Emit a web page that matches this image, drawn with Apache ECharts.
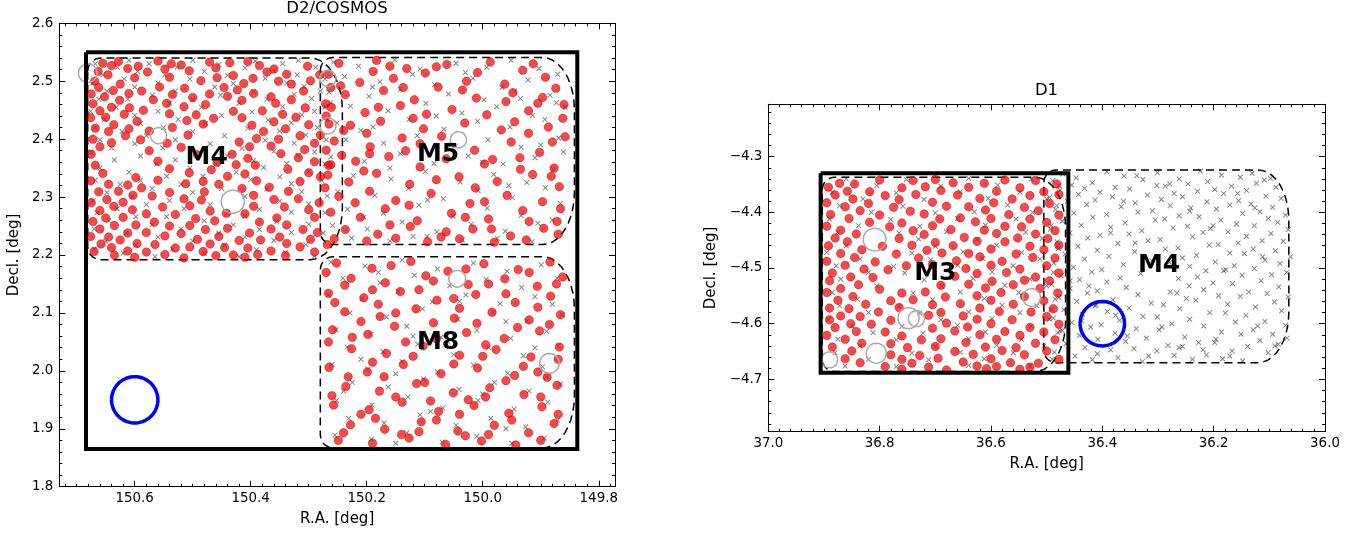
<!DOCTYPE html>
<html><head><meta charset="utf-8">
<script src="https://cdn.jsdelivr.net/npm/echarts@6/dist/echarts.min.js"></script>
<style>html,body{margin:0;padding:0;background:#fff}#c{width:1372px;height:536px}</style>
</head><body><div id="c"></div><script>
// ---------------- DATA ----------------
// D2/COSMOS panel
const d2XTicks = [150.6, 150.4, 150.2, 150.0, 149.8];
const d2YTicks = [1.8, 1.9, 2.0, 2.1, 2.2, 2.3, 2.4, 2.5, 2.6];
const d2Range = {ra: [149.772, 150.730], dec: [1.8, 2.6]};
// footprints: [RA east edge, RA west edge, Dec north, Dec south]
const d2Tiles = [[150.681, 150.242, 2.540, 2.192], [150.280, 149.842, 2.541, 2.218], [150.280, 149.842, 2.197, 1.867]];
const d2Box = [150.684, 149.837, 2.550, 1.865];
const d2Labels = ['M4', 'M5', 'M8'];
const d2LabelRA = [150.476, 150.077, 150.077];
const d2LabelDec = [2.368, 2.373, 2.049];
// grey masks [ra, dec, radius]
const d2Masks = [[150.681,2.514,0.016],[150.559,2.406,0.014],[150.431,2.292,0.020],[150.267,2.505,0.014],[150.267,2.423,0.014],[150.042,2.399,0.014],[150.044,2.159,0.0145],[149.885,2.013,0.017]];
const d2Blue = [150.6, 1.95, 0.04];

const d2Red = [
// M4
150.628,2.534,150.560,2.535,150.471,2.533,150.405,2.534,150.655,2.531,150.537,2.530,150.436,2.532,
150.640,2.527,150.594,2.526,150.520,2.528,150.385,2.527,150.302,2.526,150.612,2.522,150.548,2.521,150.460,2.523,150.360,2.521,
150.663,2.517,150.578,2.516,150.506,2.518,150.372,2.516,150.646,2.511,150.430,2.510,150.338,2.512,150.281,2.511,
150.600,2.506,150.540,2.507,150.458,2.506,150.396,2.505,150.669,2.500,150.486,2.501,150.352,2.500,150.297,2.501,
150.625,2.495,150.412,2.496,150.330,2.495,150.662,2.489,150.557,2.490,150.514,2.488,150.446,2.489,150.262,2.489,
150.637,2.484,150.588,2.483,150.423,2.485,150.309,2.483,150.675,2.478,150.610,2.479,150.535,2.477,150.471,2.478,150.395,2.479,
150.652,2.473,150.500,2.472,150.440,2.474,150.365,2.473,150.626,2.467,150.568,2.468,150.415,2.467,150.330,2.468,
150.672,2.461,150.545,2.462,150.478,2.460,150.357,2.462,150.271,2.461,150.640,2.455,150.609,2.454,150.515,2.456,150.306,2.454,
150.660,2.449,150.585,2.450,150.430,2.448,150.380,2.449,150.618,2.443,150.540,2.444,150.494,2.442,150.345,2.443,
150.676,2.437,150.650,2.438,150.464,2.436,150.415,2.437,150.322,2.438,150.596,2.431,150.510,2.432,150.360,2.430,
150.636,2.425,150.482,2.426,150.398,2.424,150.300,2.425,150.265,2.426,150.668,2.419,150.610,2.418,150.535,2.420,150.340,2.418,
150.645,2.413,150.575,2.414,150.378,2.413,150.616,2.406,150.508,2.407,150.315,2.406,150.280,2.407,
150.672,2.400,150.590,2.399,150.390,2.401,150.352,2.400,150.640,2.394,150.544,2.393,150.420,2.395,150.290,2.393,
150.660,2.387,150.520,2.386,150.402,2.387,150.365,2.388,150.575,2.380,150.307,2.382,150.270,2.381,
150.675,2.374,150.492,2.373,150.432,2.374,150.348,2.375,150.405,2.367,150.318,2.368,
150.560,2.362,150.458,2.360,150.290,2.361,150.668,2.355,150.425,2.356,150.392,2.355,150.262,2.356,
150.540,2.349,150.468,2.347,150.336,2.348,150.655,2.341,150.506,2.342,150.410,2.340,150.300,2.342,
150.598,2.334,150.440,2.336,150.280,2.335,150.676,2.328,150.560,2.329,150.482,2.327,150.390,2.328,150.315,2.327,
150.645,2.322,150.612,2.321,150.512,2.323,150.455,2.322,150.588,2.316,150.415,2.315,150.368,2.317,150.272,2.316,
150.662,2.309,150.628,2.310,150.540,2.308,150.480,2.309,150.335,2.310,150.603,2.303,150.570,2.302,150.395,2.303,
150.648,2.296,150.515,2.297,150.485,2.295,150.360,2.296,150.318,2.297,150.675,2.290,150.620,2.291,150.282,2.290,
150.636,2.284,150.552,2.283,150.505,2.285,150.395,2.284,150.342,2.283,150.660,2.277,150.604,2.278,150.470,2.276,150.300,2.278,
150.580,2.271,150.530,2.270,150.442,2.272,150.410,2.271,150.650,2.264,150.620,2.265,150.495,2.263,150.355,2.264,150.290,2.265,
150.672,2.258,150.566,2.257,150.462,2.259,150.385,2.257,150.635,2.251,150.598,2.252,150.540,2.250,150.505,2.251,150.338,2.252,
150.660,2.245,150.478,2.244,150.440,2.246,150.365,2.245,150.310,2.244,150.612,2.238,150.580,2.239,150.520,2.237,150.402,2.238,150.285,2.239,
150.676,2.232,150.645,2.231,150.548,2.233,150.455,2.232,150.350,2.231,150.625,2.226,150.492,2.227,150.420,2.225,150.383,2.226,150.297,2.227,
150.658,2.219,150.596,2.220,150.565,2.218,150.470,2.219,150.338,2.220,150.268,2.218,150.640,2.213,150.530,2.212,150.505,2.214,150.445,2.213,150.405,2.212,150.315,2.214,
150.670,2.206,150.612,2.207,150.580,2.205,150.482,2.206,150.365,2.207,150.290,2.205,150.635,2.200,150.548,2.201,150.460,2.199,150.430,2.200,150.388,2.201,150.340,2.199,
150.600,2.196,150.515,2.195,150.410,2.196,
// M5
150.248,2.531,150.183,2.536,150.131,2.522,150.062,2.529,149.987,2.533,149.931,2.519,149.892,2.507,
150.266,2.512,150.212,2.498,150.154,2.505,150.099,2.514,150.028,2.500,149.962,2.495,149.874,2.488,
150.237,2.477,150.171,2.484,150.118,2.468,150.077,2.490,150.011,2.471,149.948,2.480,149.905,2.462,
150.261,2.455,150.203,2.446,150.142,2.458,150.053,2.451,149.993,2.442,149.921,2.449,149.862,2.436,
150.228,2.424,150.176,2.431,150.102,2.418,150.031,2.428,149.968,2.416,149.887,2.421,
150.256,2.397,150.194,2.387,150.139,2.402,150.014,2.381,149.951,2.395,149.902,2.377,149.858,2.404,
150.219,2.362,150.162,2.370,150.108,2.352,150.063,2.366,149.997,2.357,149.936,2.368,149.877,2.350,
150.267,2.338,150.231,2.326,150.183,2.341,150.126,2.322,150.041,2.335,149.975,2.327,149.914,2.339,149.868,2.318,
150.248,2.301,150.195,2.310,150.150,2.294,150.089,2.306,150.022,2.289,149.958,2.303,149.897,2.292,
150.262,2.274,150.211,2.265,150.168,2.280,150.113,2.259,150.054,2.272,149.990,2.262,149.931,2.277,149.872,2.258,
150.237,2.244,150.181,2.236,150.125,2.249,150.072,2.231,150.017,2.245,149.952,2.233,149.895,2.246,
150.256,2.228,150.200,2.224,150.150,2.229,150.095,2.223,150.040,2.228,149.980,2.222,149.925,2.226,
150.080,2.525,150.009,2.515,149.913,2.530,150.189,2.517,150.137,2.489,149.897,2.472,150.245,2.492,150.097,2.443,149.945,2.430,150.200,2.410,
150.071,2.405,149.921,2.410,150.243,2.372,149.983,2.365,150.133,2.380,150.205,2.345,150.013,2.316,149.882,2.336,150.127,2.286,150.063,2.240,
149.997,2.292,149.866,2.280,150.160,2.526,150.035,2.485,149.960,2.465,150.270,2.440,150.180,2.455,150.120,2.436,150.240,2.415,149.860,2.460,
150.108,2.392,149.935,2.348,150.266,2.355,150.080,2.330,150.220,2.290,149.985,2.245,150.160,2.252,149.870,2.236,150.030,2.265,149.920,2.258,
150.195,2.375,149.880,2.395,
// M8
150.252,2.186,150.191,2.177,150.124,2.189,150.060,2.172,149.998,2.185,149.939,2.175,149.884,2.188,
150.227,2.160,150.168,2.152,150.098,2.164,150.025,2.149,149.962,2.159,149.906,2.146,149.862,2.162,
150.266,2.134,150.205,2.126,150.142,2.137,150.079,2.122,150.012,2.132,149.944,2.118,149.883,2.129,
150.238,2.102,150.177,2.094,150.115,2.107,150.049,2.091,149.984,2.101,149.920,2.088,149.866,2.097,
150.259,2.071,150.198,2.063,150.152,2.077,150.028,2.066,149.963,2.056,149.902,2.069,
150.226,2.038,150.166,2.030,150.103,2.043,150.040,2.027,149.977,2.037,149.917,2.024,149.868,2.041,
150.265,2.006,150.199,1.998,150.137,2.011,150.072,1.995,150.009,2.005,149.945,1.992,149.889,1.989,
150.236,1.973,150.178,1.965,150.114,1.978,150.051,1.962,149.988,1.971,149.929,1.959,149.872,1.975,
150.257,1.941,150.196,1.933,150.139,1.946,150.076,1.930,150.015,1.940,149.955,1.927,149.898,1.938,
150.228,1.907,150.169,1.899,150.106,1.912,150.043,1.896,149.980,1.906,149.921,1.893,149.877,1.909,
150.249,1.880,150.190,1.875,150.127,1.884,150.064,1.873,150.002,1.879,149.943,1.872,
150.158,2.182,150.029,2.176,149.873,2.150,150.238,2.148,150.110,2.140,149.960,2.133,150.180,2.115,150.040,2.108,149.905,2.110,150.255,2.118,
150.085,2.083,149.940,2.075,150.210,2.085,150.133,2.050,149.995,2.045,150.266,2.050,150.190,2.015,150.050,2.012,149.930,2.008,150.232,1.990,
150.100,1.980,149.960,1.983,150.150,1.955,150.025,1.950,149.900,1.955,150.210,1.925,150.080,1.915,149.950,1.915,150.140,1.890,150.030,1.888,
149.900,1.880,150.270,2.170,149.920,2.170,150.085,2.155,150.190,2.140,149.990,2.150,150.050,2.125,150.150,2.100,149.885,2.080,150.010,2.082,
150.225,2.058,150.080,2.055,149.870,2.020,150.120,2.025,150.000,2.025,149.905,1.998,150.170,1.990,149.995,1.955,150.260,1.957,150.090,1.948,
149.870,1.925,150.185,1.918,150.040,1.925,149.990,1.890,150.110,1.895,150.240,1.893
];

const d2Cross = [
// M4
150.610,2.536,150.500,2.536,150.392,2.535,150.318,2.536,150.668,2.530,150.575,2.530,150.455,2.529,150.345,2.530,150.630,2.524,150.527,2.524,150.410,2.523,150.288,2.524,
150.595,2.517,150.480,2.517,150.360,2.518,150.655,2.511,150.548,2.511,150.440,2.510,150.320,2.511,150.618,2.504,150.505,2.504,150.375,2.505,150.272,2.504,
150.672,2.497,150.560,2.497,150.430,2.496,150.338,2.497,150.600,2.490,150.462,2.490,150.308,2.491,150.648,2.483,150.530,2.483,150.395,2.482,150.280,2.483,
150.570,2.476,150.452,2.476,150.325,2.477,150.662,2.469,150.612,2.469,150.500,2.468,150.372,2.469,150.295,2.470,150.540,2.462,150.420,2.462,150.262,2.463,
150.632,2.455,150.485,2.455,150.345,2.456,150.676,2.448,150.560,2.448,150.398,2.447,150.290,2.448,150.600,2.441,150.450,2.441,150.312,2.442,
150.652,2.434,150.525,2.434,150.370,2.433,150.268,2.434,150.590,2.427,150.478,2.427,150.330,2.428,150.668,2.420,150.550,2.420,150.405,2.419,150.285,2.420,
150.622,2.413,150.500,2.413,150.350,2.414,150.580,2.406,150.445,2.406,150.305,2.407,150.660,2.399,150.530,2.399,150.375,2.398,150.270,2.399,
150.600,2.392,150.470,2.392,150.325,2.393,150.640,2.385,150.552,2.385,150.415,2.384,150.675,2.378,150.500,2.378,150.360,2.379,150.290,2.378,
150.590,2.371,150.440,2.371,150.318,2.372,150.635,2.364,150.530,2.364,150.395,2.363,150.562,2.357,150.460,2.357,150.338,2.358,150.272,2.357,
150.660,2.350,150.505,2.350,150.378,2.351,150.610,2.343,150.425,2.343,150.300,2.344,150.545,2.336,150.482,2.336,150.350,2.335,
150.668,2.329,150.590,2.329,150.400,2.330,150.278,2.329,150.625,2.322,150.520,2.322,150.330,2.323,150.570,2.315,150.450,2.315,150.372,2.314,
150.648,2.308,150.500,2.308,150.312,2.309,150.605,2.301,150.410,2.301,150.268,2.302,150.672,2.294,150.540,2.294,150.350,2.293,
150.580,2.287,150.470,2.287,150.300,2.288,150.630,2.280,150.515,2.280,150.385,2.279,150.665,2.273,150.440,2.273,150.330,2.274,150.272,2.273,
150.598,2.266,150.545,2.266,150.410,2.267,150.645,2.259,150.480,2.259,150.355,2.258,150.570,2.252,150.430,2.252,150.300,2.253,
150.670,2.245,150.520,2.245,150.385,2.244,150.615,2.238,150.455,2.238,150.330,2.239,150.275,2.238,150.560,2.231,150.410,2.231,
150.650,2.224,150.500,2.224,150.360,2.225,150.598,2.217,150.445,2.217,150.305,2.218,150.670,2.210,150.535,2.210,150.390,2.209,
150.620,2.203,150.480,2.203,150.340,2.204,150.565,2.197,150.420,2.197,150.290,2.198,
// M5
150.257,2.533,150.214,2.526,150.152,2.537,150.108,2.521,150.046,2.531,149.993,2.524,149.951,2.536,149.903,2.522,149.871,2.512,
150.238,2.508,150.177,2.499,150.121,2.512,150.083,2.494,150.017,2.505,149.967,2.489,149.922,2.502,
150.265,2.481,150.196,2.474,150.142,2.486,150.059,2.478,149.998,2.468,149.945,2.483,149.884,2.476,149.858,2.455,
150.228,2.457,150.163,2.449,150.098,2.462,150.036,2.445,149.976,2.456,149.914,2.441,149.873,2.463,
150.251,2.428,150.189,2.421,150.127,2.434,150.067,2.417,150.009,2.431,149.953,2.421,149.893,2.434,
150.236,2.399,150.171,2.393,150.113,2.406,150.047,2.388,149.991,2.399,149.934,2.386,149.869,2.402,
150.262,2.369,150.204,2.362,150.142,2.375,150.084,2.358,150.025,2.371,149.965,2.357,149.910,2.368,149.861,2.378,
150.223,2.337,150.158,2.331,150.099,2.344,150.039,2.326,149.981,2.339,149.924,2.325,149.878,2.347,
150.250,2.309,150.186,2.303,150.128,2.315,150.068,2.297,150.008,2.311,149.949,2.299,149.892,2.316,
150.233,2.279,150.171,2.272,150.110,2.286,150.051,2.267,149.992,2.281,149.934,2.268,149.866,2.289,
150.259,2.251,150.199,2.245,150.139,2.257,150.079,2.240,150.020,2.253,149.961,2.241,149.905,2.255,
150.226,2.229,150.160,2.224,150.096,2.232,150.035,2.226,149.975,2.229,149.915,2.223,
150.272,2.455,150.190,2.490,150.030,2.515,149.935,2.470,150.080,2.440,150.210,2.415,149.900,2.390,150.160,2.350,150.055,2.390,149.955,2.320,
150.095,2.295,150.205,2.265,149.880,2.260,150.000,2.360,150.120,2.232,
// M8
150.262,2.188,150.203,2.181,150.139,2.191,150.078,2.176,150.016,2.186,149.958,2.172,149.899,2.183,
150.241,2.160,150.177,2.152,150.118,2.165,150.057,2.147,149.994,2.158,149.933,2.144,149.872,2.160,
150.266,2.131,150.208,2.124,150.146,2.137,150.087,2.119,150.029,2.131,149.970,2.116,149.910,2.128,
150.229,2.100,150.166,2.093,150.104,2.107,150.043,2.089,149.982,2.101,149.924,2.086,149.863,2.097,
150.253,2.071,150.193,2.063,150.131,2.077,150.072,2.058,150.010,2.070,149.952,2.056,149.890,2.068,
150.234,2.041,150.172,2.033,150.112,2.046,150.050,2.028,149.990,2.040,149.930,2.026,149.870,2.043,
150.260,2.011,150.198,2.003,150.139,2.016,150.078,1.998,150.016,2.010,149.957,1.996,149.897,2.007,
150.225,1.980,150.163,1.972,150.102,1.986,150.041,1.968,149.980,1.980,149.920,1.965,149.866,1.977,
150.252,1.949,150.191,1.941,150.129,1.955,150.069,1.936,150.008,1.949,149.946,1.934,149.888,1.946,
150.231,1.918,150.170,1.910,150.108,1.924,150.046,1.906,149.986,1.918,149.926,1.903,149.871,1.915,
150.255,1.889,150.192,1.882,150.131,1.893,150.070,1.877,150.010,1.887,149.950,1.875,149.894,1.884,
150.180,2.170,150.040,2.120,149.880,2.115,150.120,2.060,149.960,2.085,150.210,2.020,150.060,2.050,149.910,2.040,150.150,1.995,150.000,1.960,
149.890,1.990,150.240,1.965,150.090,1.930,149.960,1.900,150.150,1.875
];

// D1 panel
const d1XTicks = [37.0, 36.8, 36.6, 36.4, 36.2, 36.0];
const d1YTicks = [-4.7, -4.6, -4.5, -4.4, -4.3];
const d1Range = {ra: [36.0, 37.0], dec: [-4.794, -4.206]};
const d1Tiles = [[36.903, 36.466, -4.337, -4.686], [36.505, 36.065, -4.324, -4.670]];
const d1Box = [36.906, 36.461, -4.330, -4.688];
const d1Labels = ['M3', 'M4'];
const d1LabelRA = [36.700, 36.298];
const d1LabelDec = [-4.509, -4.496];
const d1Masks = [[36.809,-4.449,0.0205],[36.527,-4.553,0.016],[36.748,-4.590,0.019],[36.734,-4.591,0.0145],[36.806,-4.653,0.018],[36.890,-4.665,0.0145]];
const d1Blue = [36.4, -4.6, 0.04];

const d1Red = [
36.800,-4.342,36.740,-4.343,36.700,-4.341,36.575,-4.342,36.520,-4.343,36.872,-4.348,36.845,-4.349,36.668,-4.347,36.612,-4.348,36.482,-4.349,
36.892,-4.355,36.760,-4.356,36.718,-4.354,36.640,-4.355,36.548,-4.356,36.858,-4.362,36.818,-4.363,36.690,-4.361,36.590,-4.362,36.505,-4.363,
36.880,-4.369,36.790,-4.370,36.735,-4.368,36.660,-4.369,36.530,-4.370,36.478,-4.368,36.848,-4.376,36.765,-4.377,36.620,-4.375,36.562,-4.376,
36.895,-4.383,36.820,-4.384,36.705,-4.382,36.595,-4.383,36.495,-4.384,36.862,-4.390,36.775,-4.391,36.680,-4.389,36.640,-4.390,36.540,-4.391,
36.835,-4.397,36.745,-4.398,36.610,-4.396,36.515,-4.397,36.888,-4.404,36.800,-4.405,36.720,-4.403,36.568,-4.404,36.478,-4.405,
36.855,-4.411,36.692,-4.412,36.655,-4.410,36.600,-4.411,36.530,-4.412,36.818,-4.418,36.760,-4.419,36.628,-4.417,36.500,-4.418,
36.895,-4.425,36.782,-4.426,36.705,-4.424,36.575,-4.425,36.545,-4.426,36.870,-4.432,36.740,-4.433,36.672,-4.431,36.612,-4.432,36.485,-4.433,
36.842,-4.439,36.720,-4.440,36.590,-4.438,36.520,-4.439,36.880,-4.446,36.765,-4.447,36.648,-4.445,36.552,-4.446,36.498,-4.447,
36.858,-4.453,36.700,-4.454,36.625,-4.452,36.575,-4.453,36.892,-4.460,36.795,-4.461,36.742,-4.459,36.668,-4.460,36.530,-4.461,36.478,-4.459,
36.832,-4.467,36.715,-4.468,36.600,-4.466,36.505,-4.467,36.870,-4.474,36.770,-4.475,36.688,-4.473,36.640,-4.474,36.555,-4.475,
36.845,-4.481,36.730,-4.482,36.620,-4.480,36.525,-4.481,36.485,-4.482,36.895,-4.488,36.808,-4.489,36.662,-4.487,36.580,-4.488,
36.862,-4.495,36.752,-4.496,36.705,-4.494,36.600,-4.495,36.500,-4.496,36.828,-4.502,36.785,-4.503,36.645,-4.501,36.548,-4.502,
36.885,-4.509,36.625,-4.510,36.572,-4.508,36.478,-4.509,36.852,-4.516,36.812,-4.517,36.665,-4.515,36.520,-4.516,
36.890,-4.523,36.598,-4.524,36.540,-4.522,36.495,-4.523,36.838,-4.530,36.690,-4.531,36.640,-4.529,36.560,-4.530,
36.870,-4.537,36.800,-4.538,36.610,-4.536,36.512,-4.537,36.895,-4.544,36.760,-4.545,36.718,-4.543,36.582,-4.544,36.480,-4.545,
36.848,-4.551,36.682,-4.552,36.625,-4.550,36.540,-4.551,36.875,-4.558,36.780,-4.559,36.740,-4.557,36.600,-4.558,36.505,-4.559,
36.825,-4.565,36.705,-4.566,36.655,-4.564,36.560,-4.565,36.890,-4.572,36.855,-4.573,36.765,-4.571,36.620,-4.572,36.488,-4.573,
36.802,-4.579,36.690,-4.580,36.585,-4.578,36.528,-4.579,36.870,-4.586,36.835,-4.587,36.712,-4.585,36.650,-4.586,36.500,-4.587,
36.890,-4.593,36.780,-4.594,36.625,-4.592,36.562,-4.593,36.852,-4.600,36.815,-4.601,36.680,-4.599,36.600,-4.600,36.478,-4.601,
36.880,-4.607,36.705,-4.608,36.642,-4.606,36.530,-4.607,36.842,-4.614,36.790,-4.615,36.665,-4.613,36.575,-4.614,36.505,-4.615,
36.895,-4.621,36.760,-4.622,36.620,-4.620,36.548,-4.621,36.862,-4.628,36.725,-4.629,36.690,-4.627,36.590,-4.628,36.485,-4.629,
36.832,-4.635,36.780,-4.636,36.645,-4.634,36.520,-4.635,36.885,-4.642,36.750,-4.643,36.700,-4.641,36.610,-4.642,36.555,-4.643,
36.850,-4.649,36.665,-4.650,36.580,-4.648,36.500,-4.649,36.780,-4.656,36.728,-4.657,36.632,-4.655,36.540,-4.656,
36.862,-4.663,36.760,-4.664,36.695,-4.662,36.600,-4.663,36.478,-4.664,36.835,-4.670,36.742,-4.671,36.650,-4.669,36.565,-4.670,36.515,-4.671,
36.790,-4.677,36.712,-4.678,36.625,-4.676,36.590,-4.677,36.530,-4.678,36.760,-4.682,36.680,-4.683,36.608,-4.681,36.548,-4.682
];

const d1Cross = [
// M3 area
36.860,-4.340,36.752,-4.341,36.640,-4.339,36.528,-4.340,36.805,-4.352,36.690,-4.353,36.588,-4.351,36.478,-4.352,
36.885,-4.364,36.770,-4.365,36.655,-4.363,36.548,-4.364,36.830,-4.376,36.720,-4.377,36.605,-4.375,36.500,-4.376,
36.872,-4.388,36.758,-4.389,36.570,-4.387,36.482,-4.388,36.815,-4.400,36.700,-4.401,36.630,-4.399,36.525,-4.400,
36.890,-4.412,36.780,-4.413,36.660,-4.411,36.555,-4.412,36.838,-4.424,36.728,-4.425,36.610,-4.423,36.492,-4.424,
36.875,-4.436,36.765,-4.437,36.680,-4.435,36.538,-4.436,36.730,-4.448,36.625,-4.449,36.508,-4.447,
36.860,-4.460,36.700,-4.461,36.590,-4.459,36.480,-4.460,36.895,-4.472,36.742,-4.473,36.650,-4.471,36.545,-4.472,
36.835,-4.484,36.708,-4.485,36.615,-4.483,36.512,-4.484,36.878,-4.496,36.775,-4.497,36.660,-4.495,36.560,-4.496,
36.820,-4.508,36.755,-4.509,36.598,-4.507,36.488,-4.508,36.870,-4.520,36.720,-4.521,36.632,-4.519,36.530,-4.520,
36.805,-4.532,36.688,-4.533,36.575,-4.531,36.500,-4.532,36.885,-4.544,36.740,-4.545,36.655,-4.543,36.550,-4.544,
36.840,-4.556,36.705,-4.557,36.612,-4.555,36.485,-4.556,36.872,-4.568,36.765,-4.569,36.580,-4.567,36.518,-4.568,
36.820,-4.580,36.728,-4.581,36.640,-4.579,36.548,-4.580,36.892,-4.592,36.690,-4.593,36.598,-4.591,36.495,-4.592,
36.850,-4.604,36.760,-4.605,36.660,-4.603,36.528,-4.604,36.812,-4.616,36.722,-4.617,36.610,-4.615,36.480,-4.616,
36.875,-4.628,36.770,-4.629,36.640,-4.627,36.545,-4.628,36.835,-4.640,36.700,-4.641,36.590,-4.639,36.505,-4.640,
36.880,-4.652,36.742,-4.653,36.655,-4.651,36.560,-4.652,36.820,-4.664,36.712,-4.665,36.612,-4.663,36.490,-4.664,
36.862,-4.676,36.770,-4.677,36.640,-4.675,36.530,-4.676,
// M4 area
36.471,-4.331,36.392,-4.327,36.338,-4.334,36.301,-4.329,36.224,-4.326,36.186,-4.333,36.131,-4.330,
36.447,-4.338,36.361,-4.335,36.262,-4.340,36.152,-4.337,36.109,-4.342,
36.489,-4.343,36.418,-4.347,36.327,-4.341,36.279,-4.349,36.211,-4.345,36.098,-4.339,
36.455,-4.351,36.377,-4.355,36.246,-4.349,36.168,-4.353,36.123,-4.348,
36.432,-4.357,36.302,-4.352,36.198,-4.359,36.141,-4.361,36.088,-4.355,
36.476,-4.360,36.404,-4.364,36.351,-4.358,36.271,-4.366,36.229,-4.362,
36.443,-4.368,36.382,-4.372,36.319,-4.369,36.182,-4.366,36.106,-4.371,
36.495,-4.373,36.294,-4.377,36.256,-4.372,36.155,-4.379,36.079,-4.375,
36.463,-4.380,36.413,-4.378,36.341,-4.383,36.212,-4.381,36.133,-4.385,
36.428,-4.386,36.366,-4.390,36.278,-4.388,36.241,-4.392,36.171,-4.387,36.094,-4.391,
36.484,-4.395,36.310,-4.397,36.195,-4.394,36.117,-4.399,
36.451,-4.401,36.392,-4.404,36.336,-4.400,36.262,-4.406,36.148,-4.402,36.071,-4.405,
36.417,-4.409,36.288,-4.412,36.226,-4.408,36.187,-4.414,36.102,-4.411,
36.472,-4.416,36.359,-4.419,36.305,-4.414,36.159,-4.421,36.085,-4.418,
36.438,-4.423,36.385,-4.427,36.247,-4.425,36.206,-4.429,36.127,-4.424,
36.493,-4.430,36.329,-4.433,36.273,-4.428,36.174,-4.435,36.066,-4.431,
36.458,-4.437,36.404,-4.441,36.352,-4.439,36.219,-4.436,36.141,-4.443,36.097,-4.438,
36.426,-4.446,36.296,-4.449,36.238,-4.444,36.113,-4.451,
36.481,-4.453,36.372,-4.456,36.318,-4.451,36.192,-4.458,36.156,-4.455,36.075,-4.452,
36.444,-4.461,36.264,-4.464,36.208,-4.459,36.129,-4.466,
36.409,-4.468,36.342,-4.471,36.287,-4.466,36.171,-4.473,36.089,-4.469,
36.467,-4.475,36.388,-4.479,36.231,-4.477,36.145,-4.474,36.062,-4.480,
36.432,-4.484,36.311,-4.487,36.256,-4.482,36.197,-4.489,36.108,-4.486,
36.487,-4.491,36.362,-4.494,36.279,-4.490,36.163,-4.496,36.081,-4.492,
36.452,-4.499,36.401,-4.503,36.243,-4.497,36.214,-4.505,36.127,-4.501,
36.419,-4.507,36.331,-4.510,36.182,-4.505,36.096,-4.512,36.069,-4.508,
36.474,-4.514,36.368,-4.518,36.229,-4.516,36.149,-4.513,
36.441,-4.521,36.392,-4.525,36.263,-4.519,36.201,-4.527,36.115,-4.523,
36.491,-4.529,36.244,-4.532,36.166,-4.528,36.083,-4.534,
36.458,-4.537,36.409,-4.541,36.357,-4.535,36.218,-4.539,36.137,-4.543,
36.427,-4.545,36.336,-4.548,36.278,-4.543,36.191,-4.550,36.104,-4.546,36.066,-4.552,
36.478,-4.553,36.381,-4.557,36.249,-4.555,36.152,-4.551,
36.446,-4.560,36.312,-4.563,36.232,-4.558,36.175,-4.565,36.091,-4.561,
36.413,-4.568,36.352,-4.572,36.290,-4.566,36.125,-4.570,
36.469,-4.575,36.391,-4.578,36.261,-4.573,36.207,-4.580,36.078,-4.577,
36.436,-4.583,36.327,-4.587,36.179,-4.581,36.142,-4.585,
36.488,-4.590,36.369,-4.594,36.301,-4.588,36.243,-4.592,36.108,-4.596,
36.455,-4.598,36.402,-4.602,36.275,-4.600,36.161,-4.597,36.071,-4.603,
36.421,-4.606,36.339,-4.609,36.218,-4.604,36.129,-4.611,
36.476,-4.613,36.377,-4.617,36.298,-4.611,36.186,-4.615,36.094,-4.619,
36.441,-4.621,36.252,-4.624,36.151,-4.619,36.068,-4.626,
36.408,-4.628,36.358,-4.632,36.321,-4.626,36.227,-4.634,36.117,-4.630,
36.465,-4.636,36.282,-4.639,36.198,-4.634,36.139,-4.641,36.084,-4.637,
36.431,-4.643,36.385,-4.647,36.343,-4.645,36.256,-4.641,36.167,-4.649,
36.486,-4.651,36.409,-4.654,36.302,-4.649,36.213,-4.656,36.102,-4.652,
36.449,-4.658,36.372,-4.661,36.271,-4.657,36.184,-4.663,
36.418,-4.665,36.328,-4.668,36.238,-4.664,36.148,-4.667,
36.472,-4.612,36.355,-4.622,36.293,-4.606,36.196,-4.628,36.121,-4.604,
36.437,-4.595,36.376,-4.585,36.262,-4.643,36.171,-4.658,36.090,-4.640,
36.492,-4.575,36.411,-4.566,36.317,-4.658,36.219,-4.647,
36.458,-4.523,36.341,-4.455,36.243,-4.398,36.157,-4.366,36.112,-4.480,
36.424,-4.532,36.385,-4.437,36.287,-4.353,36.201,-4.424,
36.479,-4.465,36.362,-4.380,36.266,-4.545,36.178,-4.503,36.126,-4.392
];

// ---------------- BUILD ----------------
const FONT = 'DejaVu Sans';
const pairs = a => { const o = []; for (let i = 0; i < a.length; i += 2) o.push([a[i], a[i + 1]]); return o; };
const RS = 0.022, RX = 0.055, RY = 0.09; // footprint corner shape
function footprint(t) {
  const [e, w, n, s] = t, W = e - w, H = n - s, pts = [];
  const arc = (cu, cv, ru, rv, a0, a1) => {
    for (let i = 0; i <= 10; i++) {
      const a = (a0 + (a1 - a0) * i / 10) * Math.PI / 180;
      pts.push([e - (cu + ru * Math.cos(a)), s + (cv + rv * Math.sin(a))]);
    }
  };
  arc(RS, H - RS, RS, RS, 180, 90);
  arc(W - RX, H - RY, RX, RY, 90, 0);
  arc(W - RX, RY, RX, RY, 0, -90);
  arc(RS, RS, RS, RS, -90, -180);
  pts.push(pts[0]);
  return pts;
}
function ring(c) { const p = []; for (let i = 0; i <= 72; i++) { const a = i / 72 * 2 * Math.PI; p.push([c[0] + c[2] * Math.cos(a), c[1] + c[2] * Math.sin(a)]); } return p; }
function box(b) { const [e, w, n, s] = b; return [[e, n], [w, n], [w, s], [e, s], [e, n]]; }
function lineS(data, ai, style, z) {
  return { type: 'line', xAxisIndex: ai, yAxisIndex: ai, data, showSymbol: false, symbol: 'none', lineStyle: style, silent: true, z, animation: false, clip: false };
}
function minorList(a, b) { const o = []; const i0 = Math.ceil(a / 0.02 - 1e-6), i1 = Math.floor(b / 0.02 + 1e-6); for (let i = i0; i <= i1; i++) o.push(+(i * 0.02).toFixed(2)); return o; }
const fmt = v => (v < 0 ? '\u2212' : '') + Math.abs(v).toFixed(1);
const lbl = { color: '#000', fontSize: 13.4, fontFamily: FONT };

function axes(g, rng, xT, yT, xGap, yGap) {
  const base = { gridIndex: g, type: 'value', splitLine: { show: false }, scale: true };
  const xm = minorList(rng.ra[0], rng.ra[1]), ym = minorList(rng.dec[0], rng.dec[1]);
  const xr = { min: rng.ra[0], max: rng.ra[1], inverse: true };
  const yr = { min: rng.dec[0], max: rng.dec[1] };
  const line = { onZero: false, lineStyle: { color: '#000', width: 1 } };
  const tickMaj = v => ({ inside: true, length: 6, customValues: v, lineStyle: { color: '#000', width: 1 } });
  const tickMin = v => ({ inside: true, length: 3, customValues: v, lineStyle: { color: '#000', width: 1 } });
  const x = [
    { ...base, ...xr, position: 'bottom', axisLine: line, axisTick: tickMaj(xT), axisLabel: { ...lbl, customValues: xT, formatter: fmt, margin: 5 },
      name: 'R.A. [deg]', nameLocation: 'middle', nameGap: xGap, nameTextStyle: { ...lbl, fontSize: 15 } },
    { ...base, ...xr, position: 'top', axisLine: line, axisTick: tickMaj(xT), axisLabel: { show: false } },
    { ...base, ...xr, position: 'bottom', axisLine: { show: false, onZero: false }, axisTick: tickMin(xm), axisLabel: { show: false } },
    { ...base, ...xr, position: 'top', axisLine: { show: false, onZero: false }, axisTick: tickMin(xm), axisLabel: { show: false } }
  ];
  const y = [
    { ...base, ...yr, position: 'left', axisLine: line, axisTick: tickMaj(yT), axisLabel: { ...lbl, customValues: yT, formatter: fmt, margin: 6 },
      name: 'Decl. [deg]', nameLocation: 'middle', nameGap: yGap, nameTextStyle: { ...lbl, fontSize: 15 } },
    { ...base, ...yr, position: 'right', axisLine: line, axisTick: tickMaj(yT), axisLabel: { show: false } },
    { ...base, ...yr, position: 'left', axisLine: { show: false, onZero: false }, axisTick: tickMin(ym), axisLabel: { show: false } },
    { ...base, ...yr, position: 'right', axisLine: { show: false, onZero: false }, axisTick: tickMin(ym), axisLabel: { show: false } }
  ];
  return { x, y };
}

const A0 = axes(0, d2Range, d2XTicks, d2YTicks, 25, 38);
const A1 = axes(1, d1Range, d1XTicks, d1YTicks, 25, 50);

function panelSeries(ai, tiles, bx, masks, blue, red, cross, labels, lra, ldec) {
  const s = [];
  tiles.forEach(t => s.push(lineS(footprint(t), ai, { color: '#000', width: 1.5, type: [8, 5] }, 2)));
  s.push({ type: 'scatter', xAxisIndex: ai, yAxisIndex: ai, data: pairs(cross), symbol: 'path://M0,1.2L1.2,0L5,3.8L8.8,0L10,1.2L6.2,5L10,8.8L8.8,10L5,6.2L1.2,10L0,8.8L3.8,5Z',
    symbolSize: 5.5, itemStyle: { color: 'rgba(0,0,0,0.5)', opacity: 1 }, silent: true, z: 3, animation: false });
  s.push({ type: 'scatter', xAxisIndex: ai, yAxisIndex: ai, data: pairs(red), symbol: 'circle', symbolSize: 8.5,
    itemStyle: { color: 'rgba(255,0,0,0.72)', borderColor: 'rgba(110,0,0,0.6)', borderWidth: 0.6, opacity: 1 }, silent: true, z: 4, animation: false });
  masks.forEach(m => s.push(lineS(ring(m), ai, { color: '#aaaaaa', width: 1.5 }, 5)));
  s.push(lineS(box(bx), ai, { color: '#000', width: 4, join: 'miter' }, 6));
  s.push(lineS(ring(blue), ai, { color: '#0000ff', width: 3.5 }, 7));
  s.push({ type: 'scatter', xAxisIndex: ai, yAxisIndex: ai, symbolSize: 1, itemStyle: { color: 'rgba(0,0,0,0)', opacity: 1 }, silent: true, z: 9, animation: false,
    data: labels.map((t, i) => ({ name: t, value: [lra[i], ldec[i]] })),
    label: { show: true, position: 'inside', formatter: '{b}', fontSize: 25, fontWeight: 'bold', color: '#000', opacity: 1, fontFamily: FONT } });
  return s;
}

const option = {
  animation: false,
  backgroundColor: '#fff',
  title: [
    { text: 'D2/COSMOS', left: 337, top: 0, textAlign: 'center', padding: 0, textStyle: { fontSize: 16.5, fontWeight: 'normal', color: '#000', fontFamily: FONT } },
    { text: 'D1', left: 1046.5, top: 82, textAlign: 'center', padding: 0, textStyle: { fontSize: 16.5, fontWeight: 'normal', color: '#000', fontFamily: FONT } }
  ],
  grid: [
    { left: 59.3, top: 23.3, width: 555.7, height: 463.4, containLabel: false },
    { left: 768.3, top: 104.3, width: 556.7, height: 327.4, containLabel: false }
  ],
  xAxis: [...A0.x, ...A1.x],
  yAxis: [...A0.y, ...A1.y],
  series: [
    ...panelSeries(0, d2Tiles, d2Box, d2Masks, d2Blue, d2Red, d2Cross, d2Labels, d2LabelRA, d2LabelDec),
    ...panelSeries(4, d1Tiles, d1Box, d1Masks, d1Blue, d1Red, d1Cross, d1Labels, d1LabelRA, d1LabelDec)
  ]
};
const chart = echarts.init(document.getElementById('c'), null, { renderer: 'canvas' });
chart.setOption(option);
</script></body></html>
